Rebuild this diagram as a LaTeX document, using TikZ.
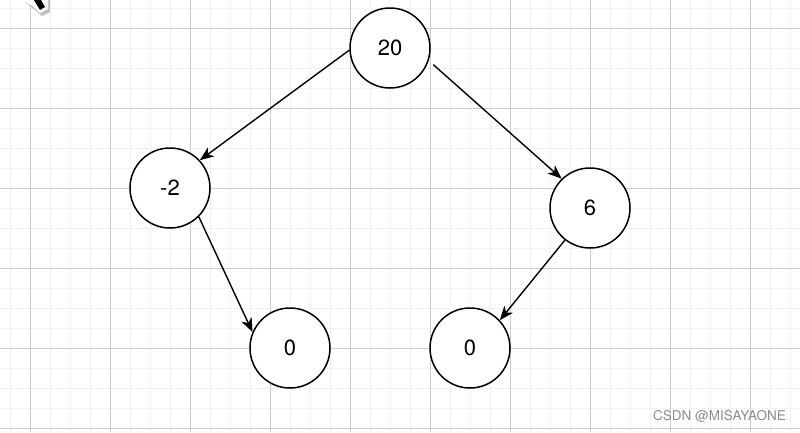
\documentclass[tikz,border=0pt]{standalone}
\usepackage{fontspec}
\setmainfont{TeX Gyre Heros}
\usetikzlibrary{positioning,arrows.meta}

\begin{document}
\begin{tikzpicture}[x=1pt, y=-1pt,
	treenode/.style={circle, draw, line width=1.5pt, minimum size=80pt, inner sep=0pt, fill=white, font=\fontsize{22}{24}\selectfont},
	edge/.style={-{Stealth[length=14pt, width=11pt, inset=4pt]}, line width=1.4pt},
	minorline/.style={draw=black!5, line width=1pt},
	majorline/.style={draw=black!20, line width=1pt}]
	\useasboundingbox (0,0) rectangle (800,432);
	\fill[white] (0,0) rectangle (800,432);
	% grid
	\foreach \x in {10,30,...,790} \draw[minorline] (\x,0) -- (\x,432);
	\foreach \y in {8,28,...,428} \draw[minorline] (0,\y) -- (800,\y);
	\foreach \x in {30,110,...,750} \draw[majorline] (\x,0) -- (\x,432);
	\foreach \y in {28,108,...,428} \draw[majorline] (0,\y) -- (800,\y);
	% cursor
	\fill[black!25] (22,0) -- (50,0) -- (50,12) -- (42,16) -- (34,9) -- cycle;
	\fill[white] (20,0) -- (48,0) -- (48,9) -- (40,13) -- (33,6) -- cycle;
	\fill[black] (34,0) -- (41,0) -- (45,7) -- (40,10) -- cycle;
	% nodes
	\node[treenode] (N20) at (390,48) {20};
	\node[treenode] (Nm2) at (170,188) {-2};
	\node[treenode] (N6) at (590,208) {6};
	\node[treenode] (N0a) at (290,348) {0};
	\node[treenode] (N0b) at (470,348) {0};
	% edges
	\draw[edge] (N20.183) -- (Nm2.43);
	\draw[edge, shorten <=6pt] (N20.-18) -- (N6.134);
	\draw[edge] (Nm2.-45) -- (N0a.157);
	\draw[edge] (N6.232) -- (N0b.43);
	% watermark
	\node[anchor=east, text=black!45, font=\fontsize{13.5}{15}\selectfont, inner sep=0pt] (mark) at (786,416) {CSDN @MISAYAONE};
\end{tikzpicture}
\end{document}
